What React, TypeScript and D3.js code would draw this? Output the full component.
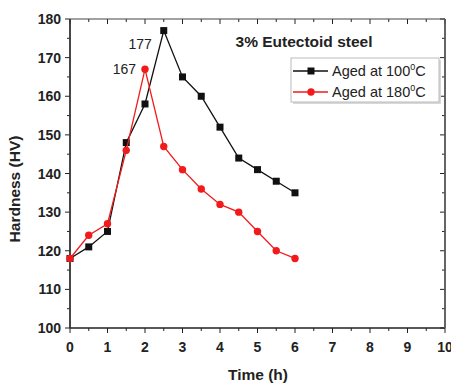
import React from "react";
import * as d3 from "d3";

const times = [0, 0.5, 1, 1.5, 2, 2.5, 3, 3.5, 4, 4.5, 5, 5.5, 6];
const aged100 = [118, 121, 125, 148, 158, 177, 165, 160, 152, 144, 141, 138, 135];
const aged180 = [118, 124, 127, 146, 167, 147, 141, 136, 132, 130, 125, 120, 118];
const xTicks = [0, 1, 2, 3, 4, 5, 6, 7, 8, 9, 10];
const yTicks = [100, 110, 120, 130, 140, 150, 160, 170, 180];
const title = "3% Eutectoid steel";

const W = 451, H = 383;
const L = 70, R = 445, T = 19, B = 328;

export default function App() {
  const x = d3.scaleLinear().domain([0, 10]).range([L, R]);
  const y = d3.scaleLinear().domain([100, 180]).range([B, T]);
  const line = d3.line<number>().x((_, i) => x(times[i])).y((d) => y(d));
  const xMinor = d3.range(0, 10.01, 0.5);
  const yMinor = d3.range(100, 180.01, 5);
  const font = "'Liberation Sans', Arial, sans-serif";
  const black = "#111";
  const red = "#f21a1a";
  return (
    <svg width={W} height={H} style={{ position: "absolute", left: 0, top: 0 }} fontFamily={font}>
      <rect x={0} y={0} width={W} height={H} fill="#fff" />
      {/* ticks */}
      {xMinor.map((t) => {
        const major = Math.abs(t - Math.round(t)) < 1e-6;
        const len = major ? 5 : 3;
        return (
          <g key={"xt" + t} stroke="#222" strokeWidth={1}>
            <line x1={x(t)} x2={x(t)} y1={B} y2={B + len} />
            <line x1={x(t)} x2={x(t)} y1={T} y2={T + len} />
          </g>
        );
      })}
      {yMinor.map((t) => {
        const major = t % 10 === 0;
        const len = major ? 5 : 3;
        return (
          <g key={"yt" + t} stroke="#222" strokeWidth={1}>
            <line x1={L - len} x2={L} y1={y(t)} y2={y(t)} />
            <line x1={R - len} x2={R} y1={y(t)} y2={y(t)} />
          </g>
        );
      })}
      {/* frame */}
      <line x1={L} x2={L} y1={T} y2={B} stroke="#333" strokeWidth={1.8} />
      <line x1={L} x2={R} y1={B} y2={B} stroke="#222" strokeWidth={1.6} />
      <line x1={L} x2={R} y1={T} y2={T} stroke="#444" strokeWidth={1.2} />
      <line x1={R} x2={R} y1={T} y2={B} stroke="#555" strokeWidth={1.8} />
      {/* tick labels */}
      {xTicks.map((t) => (
        <text key={"xl" + t} x={x(t)} y={352} textAnchor="middle" fontSize={14} fontWeight="bold" fill="#222">
          {t}
        </text>
      ))}
      {yTicks.map((t) => (
        <text key={"yl" + t} x={L - 9} y={y(t) + 5} textAnchor="end" fontSize={14} fontWeight="bold" fill="#222">
          {t}
        </text>
      ))}
      <text x={258} y={380} textAnchor="middle" fontSize={15.5} fontWeight="bold" fill="#222">
        Time (h)
      </text>
      <text transform={`translate(20,189) rotate(-90)`} textAnchor="middle" fontSize={15.5} fontWeight="bold" fill="#222">
        Hardness (HV)
      </text>
      {/* series */}
      <path d={line(aged100) || ""} fill="none" stroke={black} strokeWidth={1.3} />
      {aged100.map((v, i) => (
        <rect key={"b" + i} x={x(times[i]) - 3.5} y={y(v) - 3.5} width={7} height={7} fill={black} />
      ))}
      <path d={line(aged180) || ""} fill="none" stroke={red} strokeWidth={1.3} />
      {aged180.map((v, i) => (
        <circle key={"r" + i} cx={x(times[i])} cy={y(v)} r={3.7} fill={red} />
      ))}
      {/* annotations */}
      <text x={x(2.5) - 12} y={y(177) + 18} textAnchor="end" fontSize={14} fill="#222">
        {aged100[5]}
      </text>
      <text x={x(2) - 9} y={y(167) + 5} textAnchor="end" fontSize={14} fill="#222">
        {aged180[4]}
      </text>
      <text x={304} y={47} textAnchor="middle" fontSize={15.5} fontWeight="bold" fill="#222">
        {title}
      </text>
      {/* legend */}
      <rect x={293} y={60} width={148} height={44} fill="#d8d8d8" />
      <rect x={291} y={58} width={148} height={44} fill="#fff" stroke="#bbb" strokeWidth={1} />
      <line x1={293} x2={328} y1={71} y2={71} stroke={black} strokeWidth={1.3} />
      <rect x={311 - 3.5} y={71 - 3.5} width={7} height={7} fill={black} />
      <text x={332} y={76} fontSize={14.5} fill="#222">
        Aged at 100<tspan dy={-6} fontSize={9}>0</tspan><tspan dy={6}>C</tspan>
      </text>
      <line x1={293} x2={328} y1={92} y2={92} stroke={red} strokeWidth={1.3} />
      <circle cx={311} cy={92} r={3.7} fill={red} />
      <text x={332} y={97} fontSize={14.5} fill="#222">
        Aged at 180<tspan dy={-6} fontSize={9}>0</tspan><tspan dy={6}>C</tspan>
      </text>
    </svg>
  );
}
